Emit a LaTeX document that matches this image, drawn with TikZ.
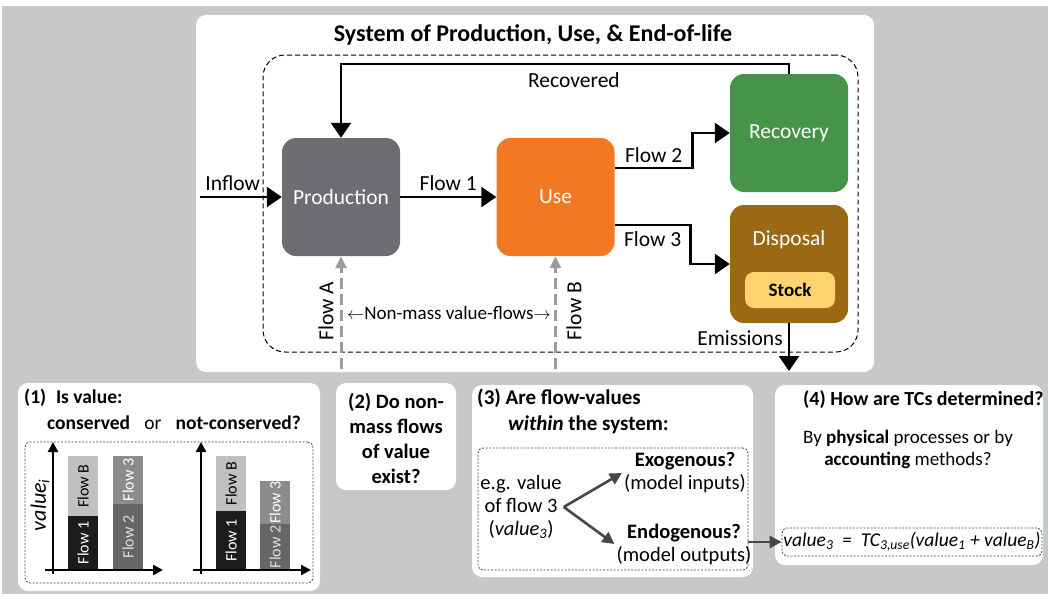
\documentclass[tikz,border=0pt]{standalone}
\usepackage{fontspec}
\setmainfont{Carlito}
\usetikzlibrary{arrows.meta,positioning}

\definecolor{bgGray}{RGB}{199,200,202}
\definecolor{prodGray}{RGB}{109,110,113}
\definecolor{useOrange}{RGB}{242,120,34}
\definecolor{recGreen}{RGB}{70,148,74}
\definecolor{dispBrown}{RGB}{155,105,20}
\definecolor{stockYellow}{RGB}{255,212,112}
\definecolor{flowGray}{RGB}{155,155,157}
\definecolor{darkLine}{RGB}{70,70,72}
\definecolor{barBlack}{RGB}{28,28,28}
\definecolor{barLight}{RGB}{192,192,192}
\definecolor{barDark}{RGB}{102,102,102}
\definecolor{barMid}{RGB}{140,140,140}
\definecolor{txtLight}{RGB}{222,222,222}

\tikzset{
  box/.style={rounded corners=14pt, minimum width=118pt, minimum height=118pt,
    text=white, font=\fontsize{21.5}{25}\selectfont},
  flow/.style={line width=2.6pt, -{Triangle[length=15pt,width=20pt]}},
  valueflow/.style={flowGray, line width=3pt, dash pattern=on 11pt off 5pt,
    -{Triangle[length=12pt,width=11pt]}},
  panel/.style={fill=white, rounded corners=10pt, inner sep=0pt},
  dashbox/.style={draw=darkLine, line width=0.8pt, dash pattern=on 2pt off 1.5pt,
    rounded corners=5pt, inner sep=0pt},
  syslbl/.style={font=\fontsize{21.5}{25}\selectfont, inner sep=2pt},
  lbl/.style={font=\fontsize{20.5}{23}\selectfont, inner sep=2pt},
  head/.style={font=\fontsize{21}{25}\selectfont\bfseries, inner sep=2pt},
  axis/.style={line width=2.4pt, -{Triangle[length=10pt,width=10pt]}},
  barlbl/.style={font=\fontsize{16}{18}\selectfont, rotate=90, inner sep=0pt},
  link/.style={darkLine, line width=2.6pt, -{Triangle[length=12pt,width=12pt]}},
}

\begin{document}
\begin{tikzpicture}[x=1pt, y=-1pt]
  \useasboundingbox (0,0) rectangle (1048,600);
  \fill[bgGray] (2,6) rectangle (1048,594);

  % panels
  \node[panel, minimum width=678pt, minimum height=357pt] (top) at (535,193.5) {};
  \node[panel, minimum width=302pt, minimum height=208pt] (p1) at (169,487) {};
  \node[panel, minimum width=120pt, minimum height=107pt] (p2) at (396,436.5) {};
  \node[panel, minimum width=281pt, minimum height=192pt] (p3) at (612.5,481) {};
  \node[panel, minimum width=268pt, minimum height=180pt] (p4) at (909,475) {};

  % system
  \node[head, font=\fontsize{24}{28}\selectfont\bfseries] (title) at (533,35) {System of Production, Use, \& End-of-life};
  \node[draw, line width=1pt, dash pattern=on 5pt off 3pt, rounded corners=22pt,
    minimum width=595pt, minimum height=297pt] (sys) at (560.5,203.5) {};

  \node[box, fill=prodGray] (prod) at (341,197) {Production};
  \node[box, fill=useOrange] (use) at (555.5,197) {Use};
  \node[box, fill=recGreen] (rec) at (789,133) {Recovery};
  \node[box, fill=dispBrown] (disp) at (789,264) {};
  \node[syslbl, text=white] (disptxt) at (789,240) {Disposal};
  \node[fill=stockYellow, rounded corners=9pt, minimum width=90pt, minimum height=36pt,
    font=\fontsize{19}{21}\selectfont\bfseries] (stock) at (790,290) {Stock};

  \coordinate (inf) at (200,197);
  \coordinate (emi) at (789,371);
  \coordinate (fa) at (341,369);
  \coordinate (fb) at (555.5,369);

  \draw[flow] (inf) -- (prod.west) node[syslbl, pos=0.4, above=3pt] (inflbl) {Inflow};
  \draw[flow] (prod) -- (use) node[syslbl, midway, above=3pt] (f1) {Flow 1};
  \draw[flow] ([yshift=29pt]use.east) -- node[syslbl, above=2pt] (f2) {Flow 2} ++(78,0) |- (rec.west);
  \draw[flow] ([yshift=-28pt]use.east) -- node[syslbl, below=3pt] (f3) {Flow 3} ++(76,0) |- (disp.west);
  \draw[flow] (rec.north) -- ++(0,-10) -| (prod.north) node[syslbl, pos=0.24, below=5pt] (recd) {Recovered};
  \draw[flow] (disp.south) -- (emi);
  \node[syslbl] (emis) at (740,338) {Emissions};

  \draw[valueflow] (fa) -- (prod.south);
  \draw[valueflow] (fb) -- (use.south);
  \node[syslbl, rotate=90] (fal) at (326,311) {Flow A};
  \node[syslbl, rotate=90] (fbl) at (574,311) {Flow B};
  \node[syslbl, font=\fontsize{19}{21}\selectfont] (nm) at (449,313) {$\leftarrow$Non-mass value-flows$\rightarrow$};

  % (1)
  \node[head, font=\fontsize{19.5}{23}\selectfont\bfseries, anchor=west] (q1) at (22,398) {(1)\enspace Is value:};
  \node[lbl, font=\fontsize{19.5}{23}\selectfont] (q1b) at (174,423) {\textbf{conserved}\enspace\ or\enspace\ \textbf{not-conserved?}};
  \node[dashbox, minimum width=288pt, minimum height=141pt] (box1) at (169,512.5) {};
  \foreach \xa/\ya/\xb/\yb/\col/\tc/\txt [count=\k] in {
      68/516/98/570/barBlack/white/Flow 1, 68/456/98/516/barLight/black/Flow B,
      113/504/143/570/barDark/txtLight/Flow 2, 113/456/143/504/barMid/white/Flow 3,
      216/511/246/570/barBlack/white/Flow 1, 216/456/246/511/barLight/black/Flow B,
      260/524/290/570/barDark/txtLight/Flow 2, 260/481/290/524/barMid/white/Flow 3} {
    \fill[\col] (\xa,\ya) rectangle (\xb,\yb);
    \node[barlbl, text=\tc] (bar\k) at ({(\xa+\xb)/2},{(\ya+\yb)/2}) {\txt};
  }
  \foreach \ox in {0,148} {
    \draw[axis] (45+\ox,570) -- (163+\ox,570);
    \draw[axis] (53+\ox,574) -- (53+\ox,442);
  }
  \node[lbl, font=\fontsize{22}{24}\selectfont\itshape, rotate=90] (ylab) at (40,505) {value\textsubscript{i}};

  % (2)
  \node[head, font=\fontsize{20.5}{25}\selectfont\bfseries, align=center] (q2) at (396,438) {(2) Do non-\\mass flows\\of value\\exist?};

  % (3)
  \node[head, anchor=west] (q3) at (475,398) {(3) Are flow-values};
  \node[head, anchor=west] (q3b) at (506,425) {\textit{within} the system:};
  \node[dashbox, minimum width=270pt, minimum height=122pt] (box3) at (613,509) {};
  \node[lbl, align=center] (eg) at (521,507) {e.g. value\\of flow 3\\(\textit{value\textsubscript{3}})};
  \node[lbl, align=center] (exo) at (685,473) {\textbf{Exogenous?}\\(model inputs)};
  \node[lbl, align=center] (endo) at (684,544) {\textbf{Endogenous?}\\(model outputs)};
  \draw[link] (eg.east) -- (exo.west);
  \draw[link] (eg.east) -- (endo.west);

  % (4)
  \node[head, font=\fontsize{20}{24}\selectfont\bfseries, anchor=west] (q4) at (801,400) {(4) How are TCs determined?};
  \node[lbl, align=center, font=\fontsize{19}{22}\selectfont] (q4b) at (908,449) {By \textbf{physical} processes or by\\\textbf{accounting} methods?};
  \node[dashbox, minimum width=260pt, minimum height=28pt, font=\fontsize{19.5}{24}\selectfont\itshape] (formula) at (912,542)
    {value\textsubscript{3} ~=~ TC\textsubscript{3,use}(value\textsubscript{1} + value\textsubscript{B})};
  \draw[link] (box3.east |- formula.west) -- (formula.west);
\end{tikzpicture}
\end{document}
